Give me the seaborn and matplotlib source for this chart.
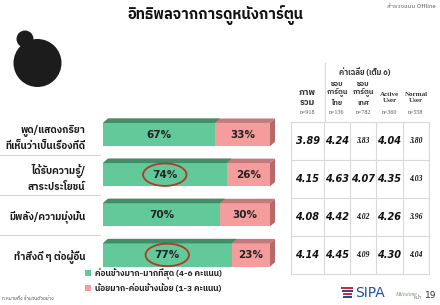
import matplotlib
matplotlib.use("Agg")
import matplotlib.pyplot as plt
from matplotlib import font_manager
from matplotlib.patches import Polygon, Ellipse, Circle, Patch, Rectangle
import seaborn as sns
import pandas as pd

# ---------------- data ----------------
title = "อิทธิพลจากการดูหนังการ์ตูน"
survey_note = "สำรวจแบบ Offline"
categories = ["พูด/แสดงกริยา\nที่เห็นว่าเป็นเรื่องที่ดี",
              "ได้รับความรู้/\nสาระประโยชน์",
              "มีพลัง/ความมุ่งมั่น",
              "ทำสิ่งดี ๆ ต่อผู้อื่น"]
agree_pct = [67, 74, 70, 77]          # ค่อนข้างมาก-มากที่สุด (4-6)
disagree_pct = [33, 26, 30, 23]       # น้อยมาก-ค่อนข้างน้อย (1-3)
highlighted = [False, True, False, True]
legend_labels = ["ค่อนข้างมาก-มากที่สุด (4-6 คะแนน)",
                 "น้อยมาก-ค่อนข้างน้อย (1-3 คะแนน)"]

table_title = "ค่าเฉลี่ย (เต็ม 6)"
col_headers = ["ภาพ\nรวม", "ชอบ\nการ์ตูน\nไทย", "ชอบ\nการ์ตูน\nเทศ", "Active\nUser", "Normal\nUser"]
col_n = ["n=918", "n=136", "n=782", "n=360", "n=558"]
mean_overall = [3.89, 4.15, 4.08, 4.14]
mean_thai = [4.24, 4.63, 4.42, 4.45]
mean_foreign = [3.83, 4.07, 4.02, 4.09]
mean_active = [4.04, 4.35, 4.26, 4.30]
mean_normal = [3.80, 4.03, 3.96, 4.04]
footer_note = "n หมายถึง จำนวนตัวอย่าง"
page_label = "หน้า"
page_no = "19"

# --------------- style ----------------
big_style = [[True] * 4, [True] * 4, [False, True, False, False], [True] * 4, [False] * 4]
GREEN = "#62c99a"
GREEN_TOP = "#3f8e68"
RED = "#f59c9c"
RED_TOP = "#c27a7a"
RED_SIDE = "#b86868"

# find a font with Thai glyphs
thai_font = None
try:
    from fontTools.ttLib import TTFont
    cands = []
    for fe in font_manager.fontManager.ttflist:
        try:
            f = TTFont(fe.fname, fontNumber=0, lazy=True)
            cm = f.getBestCmap()
            if cm and 0x0E01 in cm and 0x0E34 in cm and 0x0E49 in cm:
                cands.append(fe.name)
        except Exception:
            pass
    if cands:
        pref = [c for c in cands if "Thai" in c]
        thai_font = (pref or cands)[0]
except Exception:
    pass
families = ([thai_font] if thai_font else []) + ["DejaVu Sans"]
plt.rcParams["font.family"] = families

W, H = 440, 305
fig = plt.figure(figsize=(W / 100, H / 100), dpi=100)
fig.patch.set_facecolor("white")

def fx(px):
    return px / W

def fy(py):
    return 1 - py / H

# overlay axes in pixel coordinates for decorations
ov = fig.add_axes([0, 0, 1, 1], zorder=0)
ov.set_xlim(0, W)
ov.set_ylim(H, 0)
ov.axis("off")

# ---------------- bars ----------------
ax = fig.add_axes([fx(103), fy(275), 167 / W, 160.5 / H], zorder=2)
df = pd.DataFrame({"cat": categories, "agree": agree_pct, "dis": disagree_pct})
df["total"] = df["agree"] + df["dis"]
sns.barplot(data=df, y="cat", x="total", color=RED, orient="h", width=0.58,
            saturation=1, ax=ax, linewidth=0)
sns.barplot(data=df, y="cat", x="agree", color=GREEN, orient="h", width=0.58,
            saturation=1, ax=ax, linewidth=0)
ax.set_xlim(0, 100)
ax.set_ylim(3.5, -0.5)
ax.set_xlabel("")
ax.set_ylabel("")
ax.set_xticks([])
for s in ax.spines.values():
    s.set_visible(False)
ax.tick_params(axis="y", left=False, pad=9)
for lab in ax.get_yticklabels():
    lab.set_fontsize(7.1)
    lab.set_fontweight("bold")
    lab.set_color("#1a1a1a")
    lab.set_linespacing(1.5)
ax.patch.set_alpha(0)

# 3D bevels derived from drawn bars
dx, dy = 3.0, 0.11
n = len(categories)
red_patches = ax.patches[:n]
green_patches = ax.patches[n:2 * n]
for p in red_patches:
    x0, y0 = p.get_x(), p.get_y()
    w, h = p.get_width(), p.get_height()
    x1 = x0 + w
    ax.add_patch(Polygon([(x0, y0), (x1, y0), (x1 + dx, y0 - dy), (x0 + dx, y0 - dy)],
                         closed=True, facecolor=RED_TOP, edgecolor="none", clip_on=False))
    ax.add_patch(Polygon([(x1, y0), (x1 + dx, y0 - dy), (x1 + dx, y0 + h - dy), (x1, y0 + h)],
                         closed=True, facecolor=RED_SIDE, edgecolor="none", clip_on=False))
for p in green_patches:
    x0, y0 = p.get_x(), p.get_y()
    x1 = x0 + p.get_width()
    ax.add_patch(Polygon([(x0, y0), (x1, y0), (x1 + dx, y0 - dy), (x0 + dx, y0 - dy)],
                         closed=True, facecolor=GREEN_TOP, edgecolor="none", clip_on=False))

for i in range(n):
    g, r = agree_pct[i], disagree_pct[i]
    ax.text(g / 2, i, f"{g}%", ha="center", va="center", fontsize=7.5,
            fontweight="bold", color="#222222", family="DejaVu Sans")
    ax.text(g + r / 2, i, f"{r}%", ha="center", va="center", fontsize=7.5,
            fontweight="bold", color="#222222", family="DejaVu Sans")
    if highlighted[i]:
        ax.add_patch(Ellipse((g / 2, i), 26, 0.56, fill=False, edgecolor="#b23a24",
                             linewidth=1.3, clip_on=False, zorder=5))

# row separators in label column
for i in range(n - 1):
    ax.plot([-103 / 167, -3 / 167], [i + 0.5, i + 0.5], transform=ax.get_yaxis_transform(),
            color="#d6d6d6", lw=0.8, clip_on=False)

# ---------------- table ----------------
ta = fig.add_axes([fx(291), fy(274), (429 - 291) / W, (274 - 122) / H], zorder=1)
edges = [0, 33, 59, 85, 112, 138]
ta.set_xlim(0, 138)
ta.set_ylim(4, 0)
ta.axis("off")
for r in range(5):
    ta.plot([0, 138], [r, r], color="#d9d9d9", lw=0.8, clip_on=False)
for e in edges:
    ta.plot([e, e], [0, 4], color="#d9d9d9", lw=0.8, clip_on=False)
cols = [mean_overall, mean_thai, mean_foreign, mean_active, mean_normal]
for c, vals in enumerate(cols):
    cx = (edges[c] + edges[c + 1]) / 2
    for r, v in enumerate(vals):
        if big_style[c][r]:
            ta.text(cx, r + 0.5, f"{v:.2f}", ha="center", va="center", fontsize=7,
                    fontweight="bold", style="italic", family="DejaVu Sans", color="#111111")
        else:
            ta.text(cx, r + 0.5, f"{v:.2f}", ha="center", va="center", fontsize=5.5,
                    fontweight="bold", style="italic", family="Liberation Serif", color="#111111")

# header
ov.plot([325, 325], [63, 122], color="#d9d9d9", lw=0.8)
ov.text(365, 72, table_title, ha="center", va="center", fontsize=5.5, fontweight="bold", color="#333333")
col_cx = [291 + (edges[c] + edges[c + 1]) / 2 for c in range(5)]
for c in range(5):
    if c == 0:
        ov.text(col_cx[c], 97.5, col_headers[c], ha="center", va="center", fontsize=6.5,
                fontweight="bold", color="#333333", linespacing=1.25)
    elif c in (3, 4):
        ov.text(col_cx[c], 97.5, col_headers[c], ha="center", va="center", fontsize=5,
                fontweight="bold", color="#333333", family="Liberation Serif", linespacing=1.5)
    else:
        ov.text(col_cx[c], 93, col_headers[c], ha="center", va="center", fontsize=5,
                fontweight="bold", color="#333333", linespacing=1.3)
    ov.text(col_cx[c], 112.5, col_n[c], ha="center", va="center", fontsize=4.3,
            color="#555555", family="Liberation Serif")

# ---------------- legend ----------------
handles = [Patch(facecolor=GREEN, edgecolor="none"), Patch(facecolor=RED, edgecolor="none")]
leg = fig.legend(handles, legend_labels, loc="upper left", bbox_to_anchor=(fx(85), fy(268)),
                 frameon=False, handlelength=0.7, handleheight=0.7, handletextpad=0.5,
                 labelspacing=0.4, borderpad=0, borderaxespad=0,
                 prop={"size": 6, "weight": "bold", "family": families})
for t in leg.get_texts():
    t.set_color("#222222")

# ---------------- decorations ----------------
ov.text(215, 15, title, ha="center", va="center", fontsize=10.5, fontweight="bold", color="#111111")
ov.text(436, 7, survey_note, ha="right", va="center", fontsize=4.5, style="italic", color="#555555")
ov.add_patch(Circle((37.5, 63), 24, facecolor="#1c1c1c", edgecolor="none"))
ov.add_patch(Circle((25, 39), 8.5, facecolor="#1c1c1c", edgecolor="none"))
ov.text(2, 298, footer_note, ha="left", va="center", fontsize=3.5, color="#444444")
# SIPA logo approximation
for k, col in enumerate(["#d62a2a", "#1e4fa3", "#d62a2a", "#1e4fa3"]):
    ov.add_patch(Rectangle((341 + k * 0.8, 287 + k * 3), 12 - k * 1.2, 2, facecolor=col, edgecolor="none"))
ov.text(355, 293, "SIPA", ha="left", va="center", fontsize=10, color="#1e4fa3", family="DejaVu Sans")
ov.text(395, 294, "Milestone", ha="left", va="center", fontsize=4, style="italic", color="#6a9a5a",
        family="Liberation Serif")
ov.text(422, 297.5, page_label, ha="right", va="center", fontsize=3.5, color="#555555")
ov.text(425, 296, page_no, ha="left", va="center", fontsize=6.5, color="#333333", family="DejaVu Sans")

fig.savefig("out.png", dpi=100, facecolor="white")
